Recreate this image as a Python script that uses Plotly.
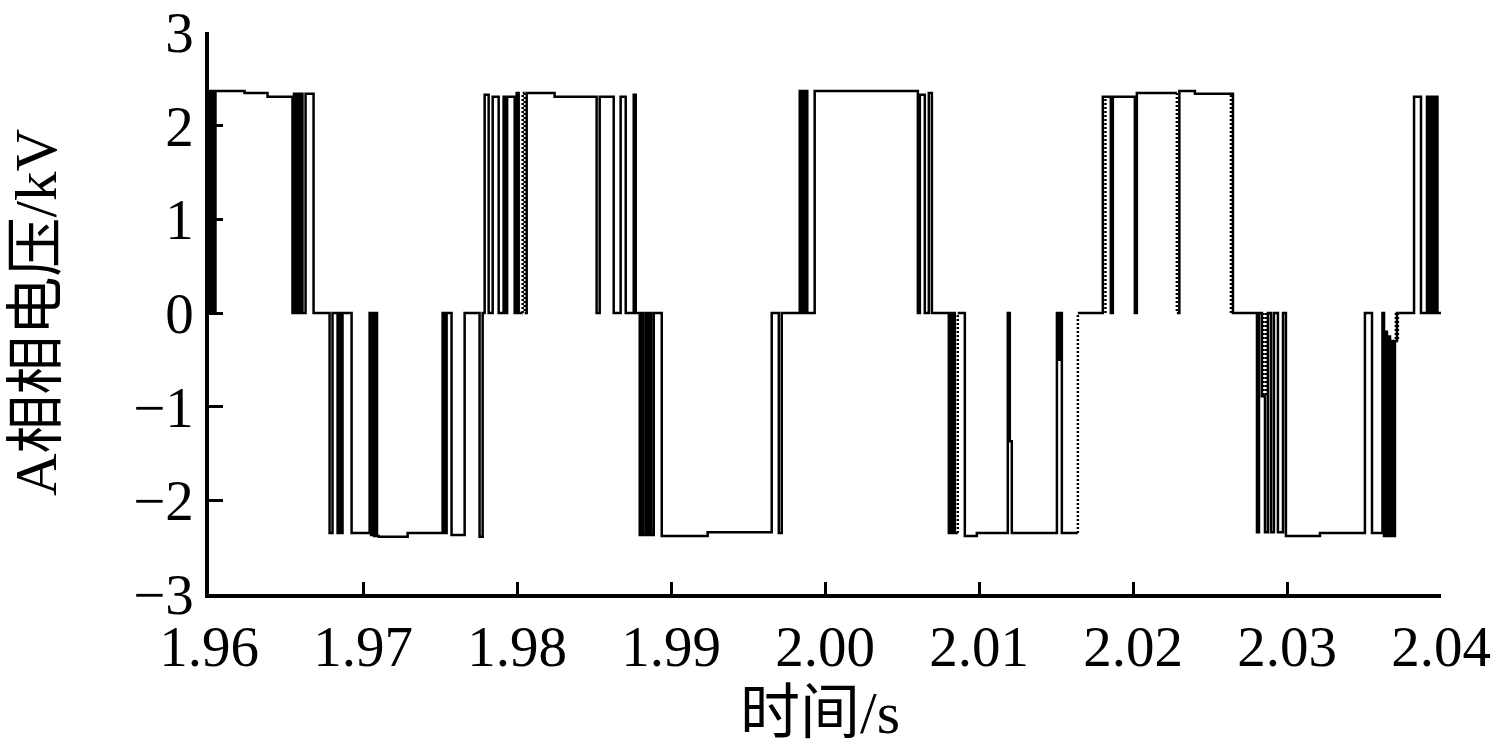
import plotly.graph_objects as go

# Switching instants (s) and the phase-A voltage level (kV) held after each instant
edge_times = [
    1.96003, 1.96013, 1.96023, 1.96032, 1.96042, 1.96231, 1.96380, 1.96542,
    1.96552, 1.96562, 1.96572, 1.96581, 1.96591, 1.96607, 1.96627, 1.96679,
    1.96783, 1.96802, 1.96835, 1.96848, 1.96854, 1.96867, 1.96926, 1.97043,
    1.97052, 1.97062, 1.97072, 1.97082, 1.97091, 1.97101, 1.97290, 1.97517,
    1.97530, 1.97543, 1.97575, 1.97660, 1.97757, 1.97777,
    1.97790, 1.97816, 1.97842, 1.97881, 1.97913, 1.97926, 1.97936, 1.97985,
    1.97998, 1.98011, 1.98037, 1.98050, 1.98063, 1.98244, 1.98517, 1.98537,
    1.98628, 1.98673, 1.98706, 1.98758, 1.98771,
    1.98797, 1.98810, 1.98819, 1.98836, 1.98849, 1.98862, 1.98871, 1.98888,
    1.98940, 1.99238, 1.99654, 1.99700, 1.99719,
    1.99836, 1.99846, 1.99856, 1.99865, 1.99875, 1.99885, 1.99933, 2.00603,
    2.00616, 2.00648, 2.00674, 2.00694,
    2.00804, 2.00814, 2.00823, 2.00833, 2.00843, 2.00862, 2.00908, 2.00986,
    2.01187, 2.01200, 2.01213, 2.01506, 2.01519, 2.01532, 2.01538, 2.01642,
    2.01804, 2.01856, 2.01869, 2.02012, 2.02025, 2.02285, 2.02301, 2.02402,
    2.02649,
    2.02805, 2.02818, 2.02837, 2.02857, 2.02876, 2.02896, 2.02915, 2.02941,
    2.02974, 2.02993, 2.03214, 2.03506, 2.03552, 2.03620, 2.03630, 2.03640,
    2.03649, 2.03659, 2.03669, 2.03679, 2.03688, 2.03701, 2.03714,
    2.03825, 2.03870, 2.03909, 2.03919, 2.03929, 2.03938, 2.03948, 2.03958,
    2.03968, 2.03977,
]
edge_levels = [
    2.37, 0, 2.37, 0, 2.37, 2.35, 2.31, 0,
    2.34, 0, 2.34, 0, 2.34, 0, 2.34, 0,
    -2.35, 0, -2.35, 0, -2.35, 0, -2.35, 0,
    -2.37, 0, -2.38, 0, -2.38, -2.39, -2.35, 0,
    -2.35, 0, -2.37, 0, -2.39, 0,
    2.33, 0, 2.31, 0, 2.31, 0, 2.31, 0,
    2.35, 0, 2.35, 0, 2.35, 2.31, 0, 2.31,
    0, 2.31, 0, 2.33, 0,
    -2.37, 0, -2.37, 0, -2.37, 0, -2.37, 0,
    -2.38, -2.34, 0, -2.35, 0,
    2.37, 0, 2.37, 0, 2.37, 0, 2.37, 0,
    2.33, 0, 2.35, 0,
    -2.35, 0, -2.35, 0, -2.35, 0, -2.38, -2.35,
    0, -1.37, -2.35, 0, -0.5, 0, -2.35, 0,
    2.31, 0, 2.31, 0, 2.35, 0, 2.37, 2.34,
    0,
    -2.34, 0, -0.89, -2.34, 0, -2.34, 0, -2.34,
    0, -2.38, -2.35, 0, -2.35, 0, -2.38, -0.2,
    -2.38, -0.25, -2.38, -0.3, -2.38, -0.3, 0,
    2.31, 0, 2.31, 0, 2.31, 0, 2.31, 0,
    2.31, 0,
]

# Edges that show as dotted strokes in the original trace
dotted_edges = [1.98037, 1.98050, 1.97700, 2.00862, 2.01642, 2.02285]
# Extra thin dotted strokes (time, from, to) overlaid on the trace
dot_seg_times = [2.01821, 2.02636, 2.02847, 2.02863, 2.03707, 2.03720]
dot_seg_from = [0, 0, 0, 0, 0, 0]
dot_seg_to = [2.31, 2.34, -0.89, -0.89, -0.3, -0.3]

t_start, t_end = 1.96, 2.04
x_ticks = [1.96, 1.97, 1.98, 1.99, 2.00, 2.01, 2.02, 2.03, 2.04]
y_ticks = [-3, -2, -1, 0, 1, 2, 3]

x_vals, y_vals = [t_start], [0]
dx, dy = [], []
prev = 0
for t, v in zip(edge_times, edge_levels):
    if any(abs(t - d) < 1e-9 for d in dotted_edges):
        x_vals += [t, None, t]
        y_vals += [prev, None, v]
        dx += [t, t, None]
        dy += [prev, v, None]
    else:
        x_vals.append(t)
        y_vals.append(v)
    prev = v
x_vals.append(t_end)
y_vals.append(0)
for t, a, b in zip(dot_seg_times, dot_seg_from, dot_seg_to):
    dx += [t, t, None]
    dy += [a, b, None]

fig = go.Figure()
fig.add_trace(go.Scatter(
    x=x_vals, y=y_vals, mode="lines", connectgaps=False,
    line=dict(color="black", width=2.5, shape="hv", simplify=False),
    showlegend=False, hoverinfo="skip",
))
fig.add_trace(go.Scatter(
    x=dx, y=dy, mode="lines", connectgaps=False,
    line=dict(color="black", width=2.5, dash="2px,2px", simplify=False),
    showlegend=False, hoverinfo="skip",
))

font_main = "Liberation Serif, Times New Roman, Noto Sans CJK SC, serif"

fig.update_layout(
    width=1496, height=749,
    margin=dict(l=209, r=55, t=32, b=155),
    paper_bgcolor="white", plot_bgcolor="white",
    font=dict(family=font_main, size=56, color="black"),
    showlegend=False,
    annotations=[
        dict(text="时间/s", xref="paper", yref="paper", x=0.4963, y=-0.212,
             xanchor="center", yanchor="middle", showarrow=False,
             font=dict(family=font_main, size=60, color="black")),
        dict(text="A相相电压/kV", xref="paper", yref="paper", x=-0.1404, y=0.5,
             xanchor="center", yanchor="middle", showarrow=False, textangle=-90,
             font=dict(family=font_main, size=59, color="black")),
    ],
)
fig.update_xaxes(
    range=[t_start, t_end], tickvals=x_ticks,
    ticktext=[f"{v:.2f}" for v in x_ticks],
    ticks="inside", ticklen=12, tickwidth=3, tickcolor="black",
    showline=True, linewidth=3.5, linecolor="black", mirror=False,
    showgrid=False, zeroline=False, automargin=False,
    ticklabeloverflow="allow",
    tickfont=dict(family=font_main, size=57, color="black"),
)
fig.update_yaxes(
    range=[-3, 3], tickvals=y_ticks,
    ticks="inside", ticklen=14, tickwidth=3, tickcolor="black",
    showline=True, linewidth=3.5, linecolor="black", mirror=False,
    showgrid=False, zeroline=False, automargin=False,
    ticklabeloverflow="allow",
    tickfont=dict(family=font_main, size=57, color="black"),
)

fig.write_html("out.html", config={"displayModeBar": False},
               post_script="document.body.style.margin='0';")
